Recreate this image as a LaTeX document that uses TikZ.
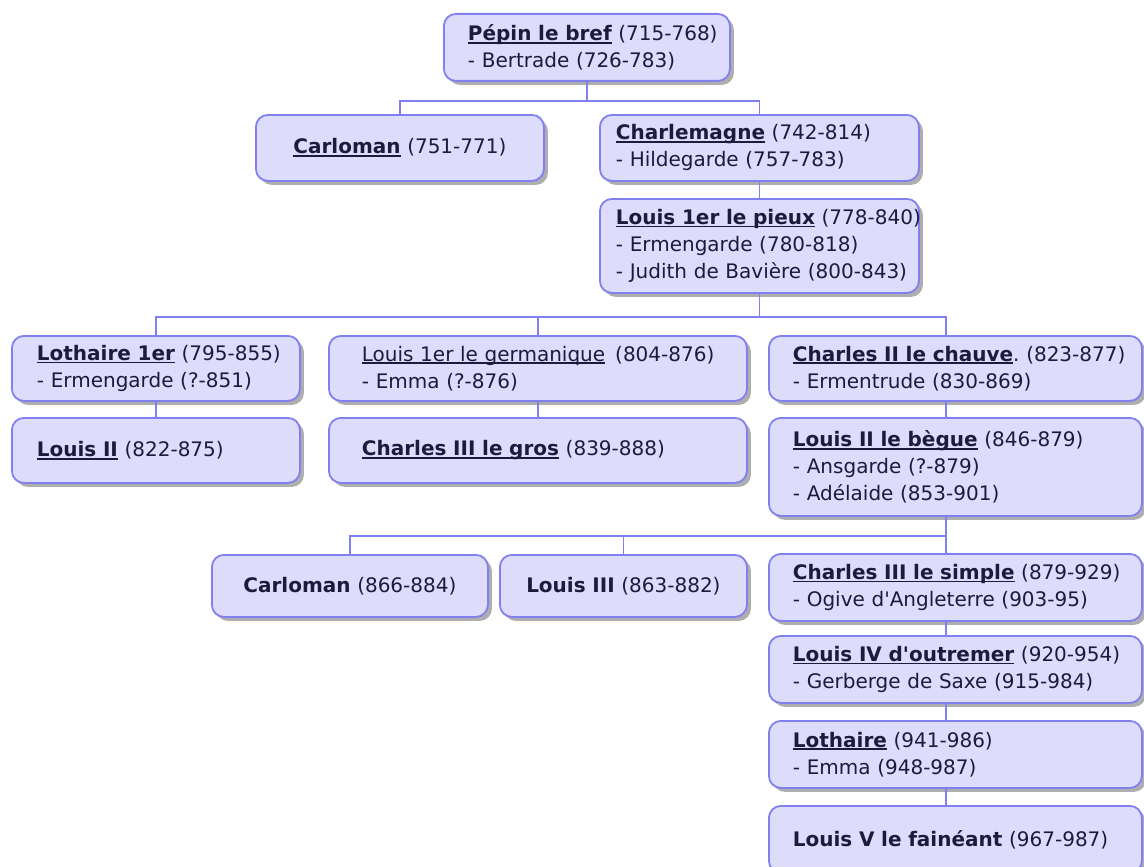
\documentclass[tikz,border=0pt]{standalone}
\usepackage{fontspec}
\setmainfont{DejaVu Sans}
\usetikzlibrary{shadows}

\definecolor{boxfill}{RGB}{221,221,251}
\definecolor{boxline}{RGB}{128,128,240}
\definecolor{linkblue}{RGB}{128,128,240}
\definecolor{textnavy}{RGB}{28,28,58}

\newcommand\kinlink[1]{\setbox0\hbox{#1}\rlap{\rule[-3pt]{\wd0}{1.8pt}}\box0}
\newcommand\royal[1]{\kinlink{\bfseries #1}}
\newcommand\heir[1]{\mbox{\bfseries #1}}
\newcommand\dates[1]{\mbox{(#1)}}
\newcommand\spouse[2]{\mbox{- #1 (#2)}}

\tikzset{
  person/.style={draw=boxline, line width=1.8pt, fill=boxfill, rounded corners=12pt,
    anchor=north west, align=left, inner ysep=0pt, text=textnavy,
    font=\fontsize{20}{27}\selectfont,
    drop shadow={shadow xshift=4pt, shadow yshift=-4pt, fill=black!70, opacity=0.45}},
  link/.style={draw=linkblue, line width=1.5pt}
}

\begin{document}
\begin{tikzpicture}[x=1pt,y=-1pt]
\useasboundingbox (0,0) rectangle (1144,867);

\node[person, text width=238pt, inner xsep=24pt, minimum height=67pt] (pepin) at (443,13)
  {\royal{Pépin le bref}~\dates{715-768}\\\spouse{Bertrade}{726-783}};

\node[person, align=center, text width=268pt, inner xsep=10pt, minimum height=66pt] (carlo) at (255,114)
  {\royal{Carloman}~\dates{751-771}};
\node[person, text width=287pt, inner xsep=16pt, minimum height=66pt] (charlem) at (599,114)
  {\royal{Charlemagne}~\dates{742-814}\\\spouse{Hildegarde}{757-783}};
\node[person, text width=287pt, inner xsep=16pt, minimum height=94pt] (pieux) at (599,198)
  {\royal{Louis 1er le pieux}~\dates{778-840}\\\spouse{Ermengarde}{780-818}\\\spouse{Judith de Bavière}{800-843}};

\node[person, text width=238pt, inner xsep=25pt, minimum height=65pt] (lothaire1) at (11,335)
  {\royal{Lothaire 1er}~\dates{795-855}\\\spouse{Ermengarde}{?-851}};
\node[person, text width=238pt, inner xsep=25pt, minimum height=65pt] (louis2) at (11,417)
  {\royal{Louis II}~\dates{822-875}};
\node[person, text width=352pt, inner xsep=33pt, minimum height=65pt] (germ) at (328,335)
  {\kinlink{Louis 1er le germanique}~\,\dates{804-876}\\\spouse{Emma}{?-876}};
\node[person, text width=352pt, inner xsep=33pt, minimum height=65pt] (gros) at (328,417)
  {\royal{Charles III le gros}~\dates{839-888}};
\node[person, text width=325pt, inner xsep=24pt, minimum height=65pt] (chauve) at (768,335)
  {\royal{Charles II le chauve}.~\dates{823-877}\\\spouse{Ermentrude}{830-869}};
\node[person, text width=325pt, inner xsep=24pt, minimum height=98pt] (begue) at (768,417)
  {\royal{Louis II le bègue}~\dates{846-879}\\\spouse{Ansgarde}{?-879}\\\spouse{Adélaide}{853-901}};

\node[person, align=center, text width=256pt, inner xsep=10pt, minimum height=62pt] (carlo2) at (211,554)
  {\heir{Carloman}~\dates{866-884}};
\node[person, align=center, text width=227pt, inner xsep=10pt, minimum height=62pt] (louis3) at (499,554)
  {\heir{Louis III}~\dates{863-882}};
\node[person, text width=325pt, inner xsep=24pt, minimum height=67pt] (simple) at (768,553)
  {\royal{Charles III le simple}~\dates{879-929}\\\spouse{Ogive d\textquotesingle{}Angleterre}{903-95}};
\node[person, text width=325pt, inner xsep=24pt, minimum height=67pt] (outremer) at (768,635)
  {\royal{Louis IV d\textquotesingle{}outremer}~\dates{920-954}\\\spouse{Gerberge de Saxe}{915-984}};
\node[person, text width=325pt, inner xsep=24pt, minimum height=67pt] (lothaire) at (768,720)
  {\royal{Lothaire}~\dates{941-986}\\\spouse{Emma}{948-987}};
\node[person, text width=325pt, inner xsep=24pt, minimum height=67pt] (louis5) at (768,805)
  {\heir{Louis V le fainéant}~\dates{967-987}};

\coordinate (bus1) at (0,101);
\coordinate (bus2) at (0,317);
\coordinate (bus3) at (0,536);
\coordinate (spine) at (946,0);

\draw[link] (pepin.south) -- (pepin.south |- bus1) -| (carlo.north);
\draw[link] (pepin.south |- bus1) -| (charlem.north);
\draw[link] (charlem.south) -- (pieux.north);
\draw[link] (pieux.south) -- (pieux.south |- bus2);
\draw[link] (lothaire1.north) |- (spine |- bus2) -- (spine |- chauve.north);
\draw[link] (germ.north) -- (germ.north |- bus2);
\draw[link] (lothaire1.south) -- (louis2.north);
\draw[link] (germ.south) -- (gros.north);
\draw[link] (spine |- chauve.south) -- (spine |- begue.north);
\draw[link] (spine |- begue.south) -- (spine |- simple.north);
\draw[link] (carlo2.north) |- (spine |- bus3);
\draw[link] (louis3.north) -- (louis3.north |- bus3);
\draw[link] (spine |- simple.south) -- (spine |- outremer.north);
\draw[link] (spine |- outremer.south) -- (spine |- lothaire.north);
\draw[link] (spine |- lothaire.south) -- (spine |- louis5.north);
\end{tikzpicture}
\end{document}
